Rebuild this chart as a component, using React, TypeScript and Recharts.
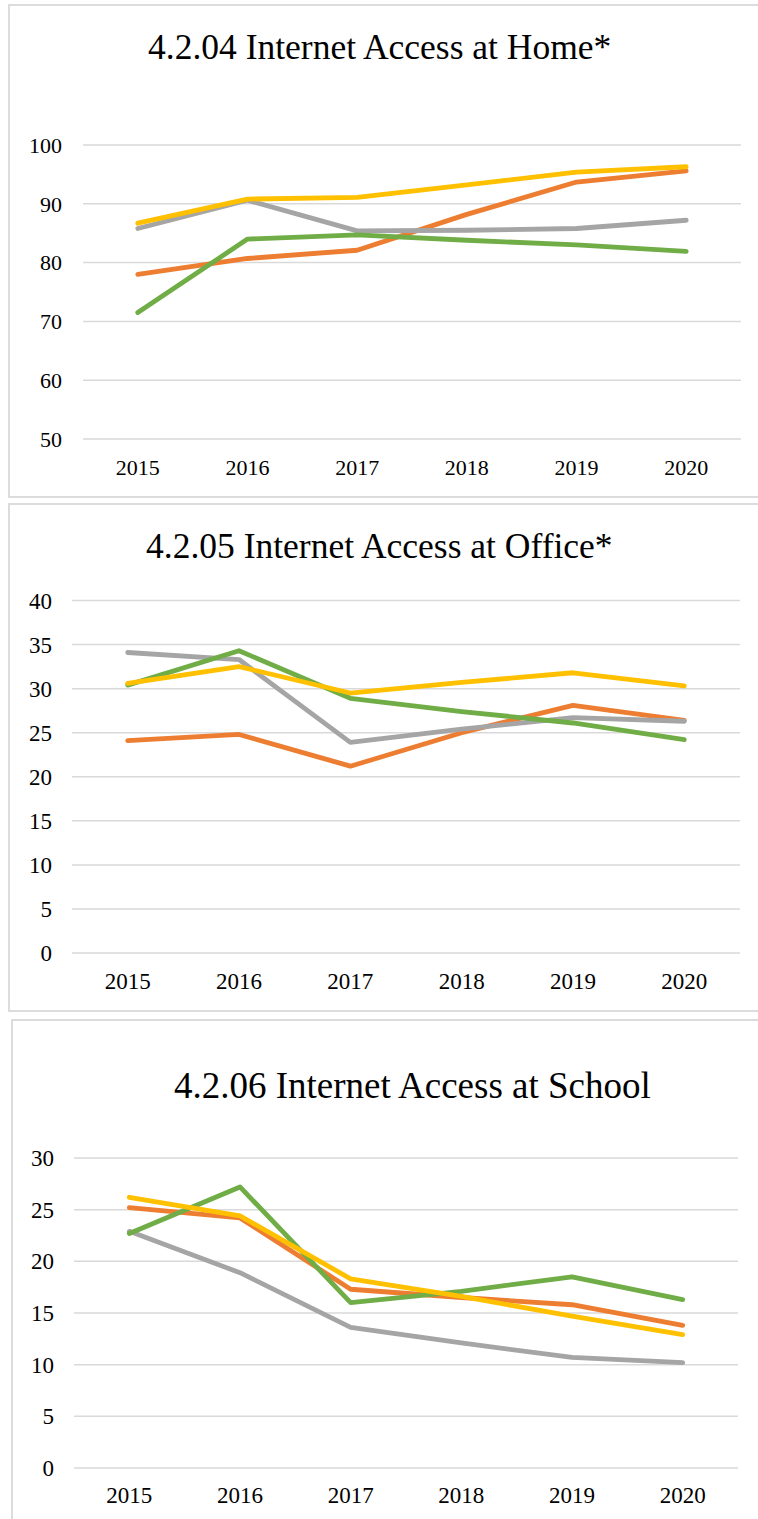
import { LineChart, Line, XAxis, YAxis, CartesianGrid } from "recharts";

// categories
const years = ["2015", "2016", "2017", "2018", "2019", "2020"];

// 4.2.04 Internet Access at Home*
const homeOrange = [78.0, 80.7, 82.1, 88.2, 93.7, 95.6];
const homeGray = [85.8, 90.6, 85.4, 85.5, 85.8, 87.2];
const homeGreen = [71.5, 84.0, 84.7, 83.8, 83.0, 81.9];
const homeYellow = [86.7, 90.8, 91.1, 93.2, 95.4, 96.3];
const homeTicks = [50, 60, 70, 80, 90, 100];

// 4.2.05 Internet Access at Office*
const officeOrange = [24.1, 24.8, 21.2, 25.0, 28.1, 26.4];
const officeGray = [34.1, 33.3, 23.9, 25.4, 26.7, 26.3];
const officeGreen = [30.4, 34.3, 28.9, 27.4, 26.1, 24.2];
const officeYellow = [30.6, 32.5, 29.5, 30.7, 31.8, 30.3];
const officeTicks = [0, 5, 10, 15, 20, 25, 30, 35, 40];

// 4.2.06 Internet Access at School
const schoolOrange = [25.2, 24.2, 17.3, 16.5, 15.8, 13.8];
const schoolGray = [22.9, 18.9, 13.6, 12.1, 10.7, 10.2];
const schoolGreen = [22.7, 27.2, 16.0, 17.1, 18.5, 16.3];
const schoolYellow = [26.2, 24.4, 18.3, 16.6, 14.7, 12.9];
const schoolTicks = [0, 5, 10, 15, 20, 25, 30];

const COLORS = {
  orange: "#ED7D31",
  gray: "#A5A5A5",
  green: "#70AD47",
  yellow: "#FFC000",
};

const FONT = "'Liberation Serif', 'Times New Roman', serif";

function build(o: number[], g: number[], gr: number[], y: number[]) {
  return years.map((year, i) => ({
    year,
    orange: o[i],
    gray: g[i],
    green: gr[i],
    yellow: y[i],
  }));
}

const homeData = build(homeOrange, homeGray, homeGreen, homeYellow);
const officeData = build(officeOrange, officeGray, officeGreen, officeYellow);
const schoolData = build(schoolOrange, schoolGray, schoolGreen, schoolYellow);

function Panel({ top, height, data, ticks, margin, pad, fontSize, xMargin, yMargin }) {
  return (
    <div style={{ position: "absolute", left: 0, top }}>
      <LineChart width={758} height={height} data={data} margin={margin}>
        <CartesianGrid vertical={false} stroke="#D9D9D9" strokeWidth={1.5} />
        <XAxis
          dataKey="year"
          height={40}
          padding={{ left: pad, right: pad }}
          axisLine={false}
          tickLine={false}
          tickSize={0}
          tickMargin={xMargin}
          tick={{ fill: "#000", fontSize, fontFamily: FONT }}
        />
        <YAxis
          width={70}
          domain={[ticks[0], ticks[ticks.length - 1]]}
          ticks={ticks}
          axisLine={false}
          tickLine={false}
          tickSize={0}
          tickMargin={yMargin}
          tick={{ fill: "#000", fontSize, fontFamily: FONT }}
        />
        {["orange", "gray", "green", "yellow"].map((k) => (
          <Line
            key={k}
            dataKey={k}
            stroke={COLORS[k]}
            strokeWidth={4.8}
            strokeLinecap="round"
            strokeLinejoin="round"
            dot={false}
            activeDot={false}
            isAnimationActive={false}
          />
        ))}
      </LineChart>
    </div>
  );
}

function Title({ text, left, top, size }) {
  return (
    <div
      style={{
        position: "absolute",
        left,
        top,
        fontSize: size,
        lineHeight: `${size}px`,
        fontFamily: FONT,
        color: "#000",
        whiteSpace: "nowrap",
      }}
    >
      {text}
    </div>
  );
}

const boxStyle = {
  position: "absolute",
  border: "2px solid #DCDCDC",
  boxSizing: "border-box",
  width: 800,
  background: "#fff",
} as const;

export default function App() {
  return (
    <div
      style={{
        position: "relative",
        width: 758,
        height: 1519,
        overflow: "hidden",
        background: "#fff",
      }}
    >
      <style>{`body{margin:0}`}</style>

      <div style={{ ...boxStyle, left: 8, top: 4, height: 494 }} />
      <div style={{ ...boxStyle, left: 8, top: 503, height: 509 }} />
      <div style={{ ...boxStyle, left: 11, top: 1019, height: 600 }} />

      <Title text="4.2.04 Internet Access at Home*" left={148} top={30.3} size={35.5} />
      <Title text="4.2.05 Internet Access at Office*" left={146} top={529.3} size={35.5} />
      <Title text="4.2.06 Internet Access at School" left={174} top={1067} size={37} />

      <Panel
        top={0}
        height={497}
        data={homeData}
        ticks={homeTicks}
        margin={{ top: 145, right: 17, bottom: 18, left: 13 }}
        pad={54.8}
        fontSize={22}
        xMargin={20}
        yMargin={21}
      />
      <Panel
        top={500}
        height={510}
        data={officeData}
        ticks={officeTicks}
        margin={{ top: 100.5, right: 18, bottom: 17, left: 2 }}
        pad={55.7}
        fontSize={23}
        xMargin={20}
        yMargin={20}
      />
      <Panel
        top={1015}
        height={504}
        data={schoolData}
        ticks={schoolTicks}
        margin={{ top: 143, right: 20, bottom: 11, left: 4 }}
        pad={55.3}
        fontSize={23}
        xMargin={19}
        yMargin={20}
      />
    </div>
  );
}
